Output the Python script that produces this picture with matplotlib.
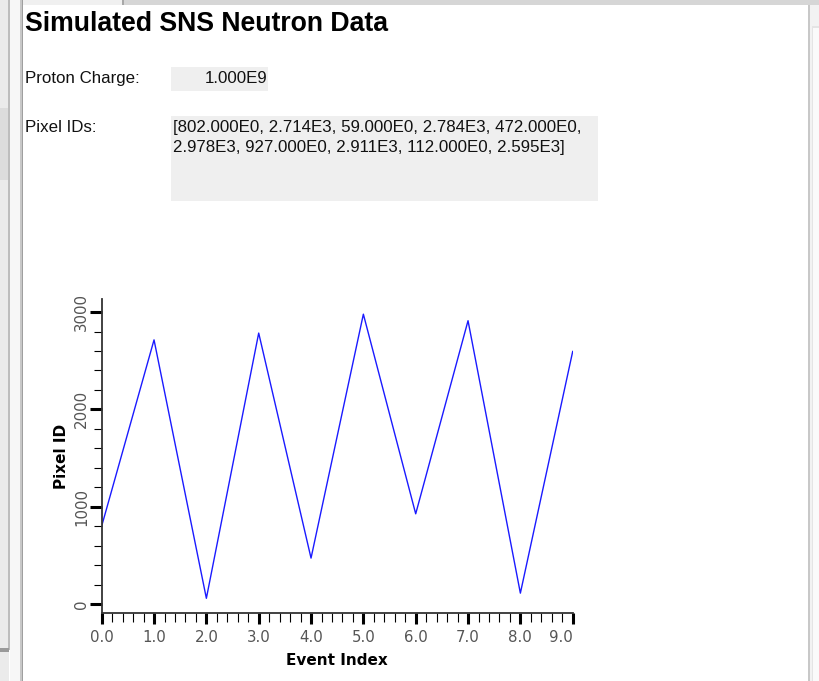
#!/usr/bin/python
import matplotlib
matplotlib.use("Agg")
from matplotlib import pyplot as plt
from matplotlib.patches import Rectangle
from matplotlib.ticker import MultipleLocator, FormatStrFormatter

# data
titulo = "Simulated SNS Neutron Data"
proton_charge = "1.000E9"
pixel_ids_texto = ["[802.000E0, 2.714E3, 59.000E0, 2.784E3, 472.000E0,",
                   "2.978E3, 927.000E0, 2.911E3, 112.000E0, 2.595E3]"]
event_index = [0, 1, 2, 3, 4, 5, 6, 7, 8, 9]
pixel_ids = [802, 2714, 59, 2784, 472, 2978, 927, 2911, 112, 2595]

W, H = 819, 681
fig = plt.figure(figsize=(W / 100, H / 100), dpi=100)

# fondo de la ventana, en pixeles
bg = fig.add_axes([0, 0, 1, 1])
bg.set_xlim(0, W)
bg.set_ylim(H, 0)
bg.axis("off")


def caja(x0, y0, x1, y1, color, z=0):
    bg.add_patch(Rectangle((x0, y0), x1 - x0, y1 - y0, facecolor=color,
                           edgecolor="none", zorder=z))


caja(0, 0, W, H, "white")
# panel izquierdo
caja(0, 0, 9, H, "#ebebeb")
caja(0, 108, 8, 180, "#dcdcdc")
caja(8, 0, 9.5, 650, "#bdbdbd")
caja(9.5, 0, 20, H, "#f7f7f7")
caja(0, 648, 9, 652, "#9a9a9a")
caja(20, 0, 21.5, H, "#c8c8c8")
caja(21.5, 0, 23, H, "#9f9f9f")
# barra superior y pestaña
caja(23, 0, W, 5, "#d6d6d6")
caja(23, 0, 123, 5, "#f0f0f0")
caja(122, 0, 123.5, 5, "#a8a8a8")
# barra de scroll
caja(808, 5, 810, H, "#c8c8c8")
caja(810, 5, W, H, "#f2f2f2")
caja(812, 26, 819, H, "#e4e4e4")
caja(813, 28, 819, H, "#fafafa")

# cajas grises de los campos
caja(171, 67, 268, 91, "#efefef", 1)
caja(171, 116, 598, 201, "#efefef", 1)

fuente = ["Liberation Sans", "DejaVu Sans"]
bg.text(25, 31, titulo, fontsize=19.2, fontweight="bold", va="baseline",
        color="black", family=fuente, zorder=2)
bg.text(25, 83, "Proton Charge:", fontsize=12.2, va="baseline", color="#111",
        family=fuente, zorder=2)
bg.text(267, 83, proton_charge, fontsize=12.2, va="baseline", ha="right",
        color="#111", family=fuente, zorder=2)
bg.text(25, 132, "Pixel IDs:", fontsize=12.2, va="baseline", color="#111",
        family=fuente, zorder=2)
for i, linea in enumerate(pixel_ids_texto):
    bg.text(173, 132 + 20 * i, linea, fontsize=12.2, va="baseline",
            color="#111", family=fuente, zorder=2)

# grafico
x0, x1, y_top, y_bot = 101.7, 572.7, 299, 613
ax = fig.add_axes([x0 / W, 1 - y_bot / H, (x1 - x0) / W, (y_bot - y_top) / H])
ax.patch.set_alpha(0)
ax.plot(event_index, pixel_ids, color="#1a1aff", lw=1.0)

ax.set_xlim(0, 9)
ax.set_ylim(-92, 3134)
for s in ["top", "right"]:
    ax.spines[s].set_visible(False)
for s in ["left", "bottom"]:
    ax.spines[s].set_color("#333333")
    ax.spines[s].set_linewidth(1.3)

ax.set_xticks(event_index, labels=["%.1f" % v for v in event_index])
ax.xaxis.set_minor_locator(MultipleLocator(0.2))
ax.yaxis.set_major_locator(MultipleLocator(1000))
ax.yaxis.set_minor_locator(MultipleLocator(200))
ax.yaxis.set_major_formatter(FormatStrFormatter("%d"))

ax.tick_params(axis="both", which="major", color="black", labelcolor="#555555",
               labelsize=10.8)
ax.tick_params(axis="x", which="major", length=8, width=2.2, pad=4)
ax.tick_params(axis="x", which="minor", length=6.5, width=0.8, color="black")
ax.tick_params(axis="y", which="major", length=8.6, width=2.2, pad=0.5,
               labelrotation=90)
ax.tick_params(axis="y", which="minor", length=5.8, width=0.8, color="black")
for lbl in ax.get_yticklabels():
    lbl.set_va("center")
# la ultima etiqueta queda dentro del eje
ax.get_xticklabels()[-1].set_ha("right")

ax.set_xlabel("Event Index", fontsize=11, fontweight="bold", labelpad=6)
ax.set_ylabel("Pixel ID", fontsize=11, fontweight="bold", labelpad=3.5)

plt.savefig("out.png", dpi=100)
